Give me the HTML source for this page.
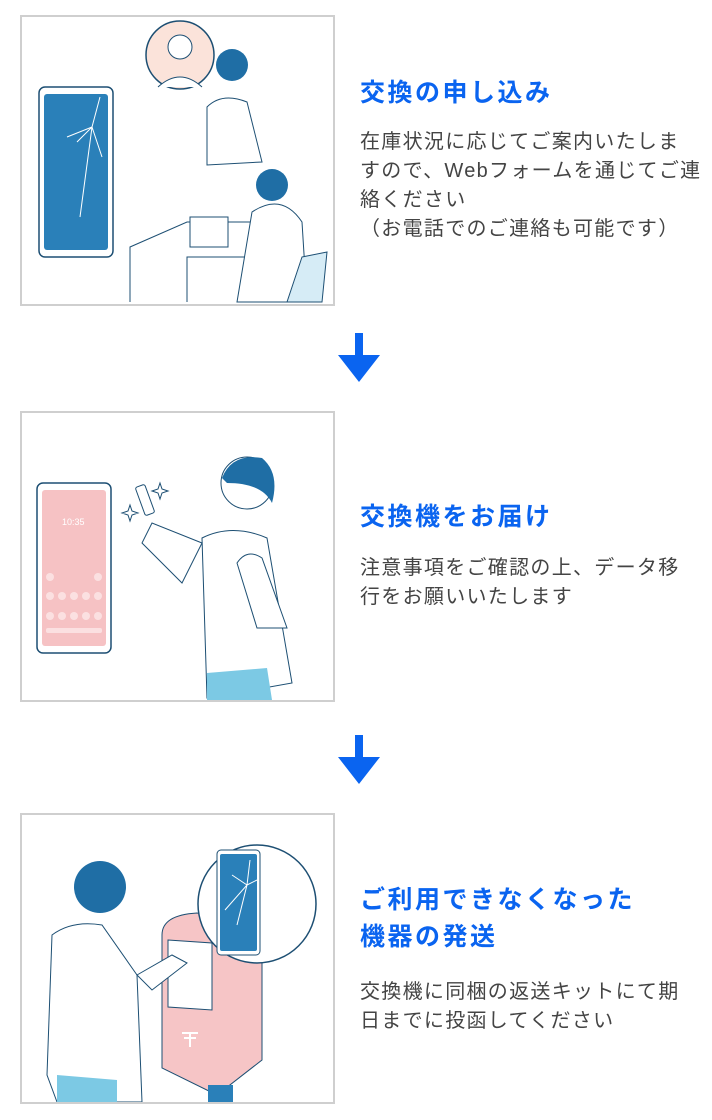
<!DOCTYPE html>
<html><head><meta charset="utf-8"><style>
body{margin:0;width:712px;height:1120px;background:#fff;position:relative;font-family:"Liberation Sans","Noto Sans CJK JP",sans-serif;overflow:hidden}
.p{position:absolute;left:20px;width:311px;height:287px;border:2px solid #cfcfcf;background:#fff}
.t{position:absolute;left:360px;color:#0a64f0;font-weight:bold;font-size:25px;line-height:37px;letter-spacing:2.5px;white-space:nowrap}
.b{position:absolute;left:360px;color:#444;font-size:20px;line-height:29px;letter-spacing:1.3px;white-space:nowrap}
.ar{position:absolute;left:338px}
svg{position:absolute;left:0;top:0}
</style></head><body>

<div class="p" style="top:15px">
<svg width="311" height="287" viewBox="0 0 311 287">
<rect x="17" y="70" width="74" height="170" rx="6" fill="#fff" stroke="#1d4f73" stroke-width="1.5"/>
<rect x="22" y="77" width="64" height="156" rx="3" fill="#2a80b9"/>
<path d="M78 80 L70 110 L55 125 M70 110 L58 200 M70 110 L80 140 M70 110 L45 120" stroke="#fff" fill="none"/>
<circle cx="158" cy="38" r="34" fill="#fbe3da" stroke="#1d4f73" stroke-width="1.5"/>
<circle cx="158" cy="30" r="12" fill="#fff" stroke="#1d4f73"/>
<path d="M136 70 Q158 50 180 70" fill="#fff" stroke="#1d4f73"/>
<path d="M185 90 Q200 75 225 85 L240 145 L185 148 Z" fill="#fff" stroke="#1d4f73"/>
<circle cx="210" cy="48" r="16" fill="#1f6ea5"/>
<path d="M165 285 L165 240 L290 240 L290 285" fill="#fff" stroke="#1d4f73"/>
<path d="M108 285 L108 230 L165 205 L270 205" fill="none" stroke="#1d4f73"/>
<path d="M230 195 Q260 175 280 205 L285 285 L215 285 Z" fill="#fff" stroke="#1d4f73"/>
<circle cx="250" cy="168" r="16" fill="#1f6ea5"/>
<path d="M280 240 L305 235 L300 285 L265 285 Z" fill="#d6ecf6" stroke="#1d4f73"/>
<rect x="168" y="200" width="38" height="30" fill="#fff" stroke="#1d4f73"/>
</svg></div>
<div class="t" style="top:75px">交換の申し込み</div>
<div class="b" style="top:128px">在庫状況に応じてご案内いたしま<br>すので、Webフォームを通じてご連<br>絡ください<br>（お電話でのご連絡も可能です）</div>

<svg class="ar" style="top:333px" width="42" height="50"><path d="M17 0H25V22H42L21 49L0 22H17Z" fill="#0a64f0"/></svg>

<div class="p" style="top:411px">
<svg width="311" height="287" viewBox="0 0 311 287">
<rect x="15" y="70" width="74" height="170" rx="6" fill="#fff" stroke="#1d4f73" stroke-width="1.5"/>
<rect x="20" y="77" width="64" height="156" rx="3" fill="#f6c2c4"/>
<text x="40" y="112" font-size="9" fill="#fff" font-family="Liberation Sans">10:35</text>
<g fill="#fbe0e1"><circle cx="28" cy="164" r="4"/><circle cx="76" cy="164" r="4"/><circle cx="28" cy="183" r="4"/><circle cx="40" cy="183" r="4"/><circle cx="52" cy="183" r="4"/><circle cx="64" cy="183" r="4"/><circle cx="76" cy="183" r="4"/><circle cx="28" cy="203" r="4"/><circle cx="40" cy="203" r="4"/><circle cx="52" cy="203" r="4"/><circle cx="64" cy="203" r="4"/><circle cx="76" cy="203" r="4"/><rect x="24" y="215" width="56" height="5" rx="2"/></g>
<path d="M180 125 Q210 110 245 125 L270 270 L185 285 Z" fill="#fff" stroke="#1d4f73"/>
<path d="M185 260 L245 255 L250 287 L185 287 Z" fill="#7cc9e4"/>
<circle cx="225" cy="70" r="26" fill="#fff" stroke="#1d4f73"/>
<path d="M200 65 Q210 40 240 45 Q258 60 250 90 Q240 70 205 70Z" fill="#1f6ea5"/>
<path d="M180 130 L130 110 L120 130 L160 170 Z" fill="#fff" stroke="#1d4f73"/>
<rect x="118" y="72" width="10" height="30" rx="2" fill="#fff" stroke="#1d4f73" transform="rotate(-20 123 87)"/>
<path d="M108 92 l2 6 6 2 -6 2 -2 6 -2 -6 -6 -2 6 -2z M138 70 l2 6 6 2 -6 2 -2 6 -2 -6 -6 -2 6 -2z" fill="#fff" stroke="#1d4f73"/>
<path d="M215 150 Q225 135 240 145 L265 215 L235 215 Z" fill="#fff" stroke="#1d4f73"/>
</svg></div>
<div class="t" style="top:499px">交換機をお届け</div>
<div class="b" style="top:554px">注意事項をご確認の上、データ移<br>行をお願いいたします</div>

<svg class="ar" style="top:735px" width="42" height="50"><path d="M17 0H25V22H42L21 49L0 22H17Z" fill="#0a64f0"/></svg>

<div class="p" style="top:813px">
<svg width="311" height="287" viewBox="0 0 311 287">
<path d="M140 120 Q140 100 175 98 L240 110 L240 245 L195 280 L140 253 Z" fill="#f6c5c6" stroke="#1d4f73"/>
<rect x="186" y="270" width="25" height="17" fill="#2a80b9"/>
<path d="M146 125 L190 128 L190 195 L146 192Z" fill="#fff" stroke="#1d4f73"/>
<path d="M160 218h16M168 218v14M162 223h12" stroke="#fff" stroke-width="2"/>
<circle cx="235" cy="89" r="59" fill="#fff" stroke="#1d4f73" stroke-width="1.5"/>
<rect x="195" y="35" width="43" height="105" rx="4" fill="#fff" stroke="#1d4f73"/>
<rect x="198" y="39" width="37" height="97" rx="2" fill="#2a80b9"/>
<path d="M228 45 L225 70 L203 95 M225 70 L215 110 M225 70 L235 65 M225 70 L210 60" stroke="#fff" fill="none"/>
<path d="M30 120 Q50 105 80 110 L115 160 L120 287 L35 287 L25 260 Z" fill="#fff" stroke="#1d4f73"/>
<path d="M35 260 L95 265 L95 287 L35 287Z" fill="#7cc9e4"/>
<circle cx="78" cy="72" r="26" fill="#1f6ea5"/>
<path d="M115 160 L150 140 L165 148 L130 175 Z" fill="#fff" stroke="#1d4f73"/>
</svg></div>
<div class="t" style="top:882px">ご利用できなくなった<br>機器の発送</div>
<div class="b" style="top:978px">交換機に同梱の返送キットにて期<br>日までに投函してください</div>
</body></html>
